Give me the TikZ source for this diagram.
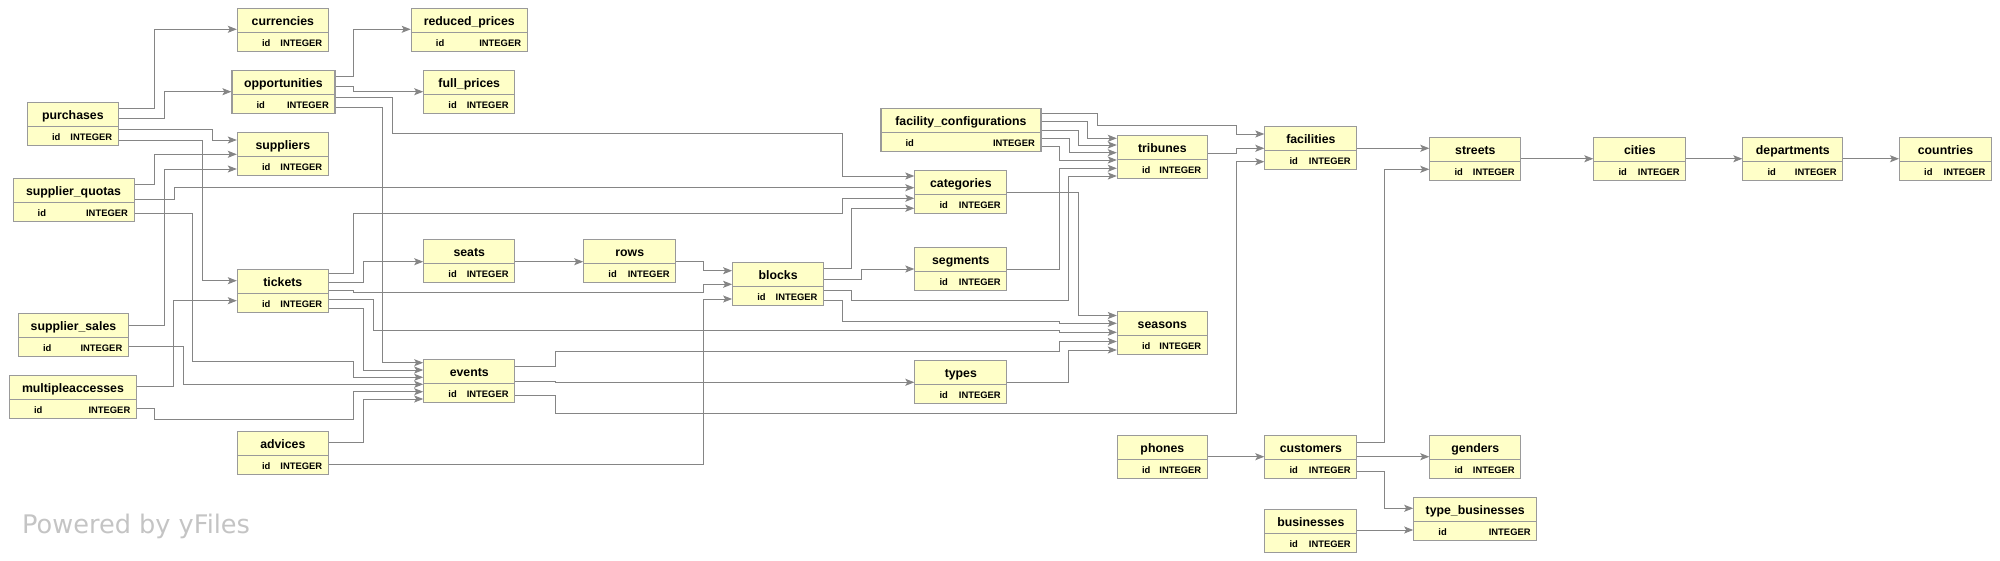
\documentclass[tikz,border=0pt]{standalone}
\usepackage{fontspec}
\usepackage{tikz}
\usetikzlibrary{arrows.meta}
\setmainfont{Liberation Sans}
\newfontfamily\poweredfont{DejaVu Sans}
\definecolor{entyellow}{HTML}{FFFFC8}
\definecolor{entborder}{HTML}{9A9A9A}
\definecolor{fkgray}{HTML}{858585}
\definecolor{poweredgray}{HTML}{C4C4C4}
% table box: name, x, y (top left, px), width, title
\newcommand{\entity}[5]{%
  \node[entbox,minimum width=#4pt,anchor=north west] (#1) at (#2,#3) {};
  \draw[entsep] ([yshift=-24.5pt]#1.north west) -- ([yshift=-24.5pt]#1.north east);
  \node[enttitle] (#1-name) at ([yshift=-17.6pt]#1.north) {#5};
  \node[entcol,anchor=base west] (#1-id) at ([xshift=25pt,yshift=5.5pt]#1.south west) {id};
  \node[entcol,anchor=base east] (#1-type) at ([xshift=-6.5pt,yshift=5.5pt]#1.south east) {INTEGER};
}

\begin{document}
\begin{tikzpicture}[
  x=1pt,y=-1pt,
  entbox/.style={draw=entborder,fill=entyellow,line width=1.1pt,minimum height=43pt,inner sep=0pt},
  entsep/.style={draw=entborder,line width=1pt},
  enttitle/.style={anchor=base,inner sep=0pt,font=\bfseries\fontsize{12.3}{14}\selectfont},
  entcol/.style={inner sep=0pt,font=\bfseries\fontsize{9.4}{11}\selectfont},
  fk/.style={draw=fkgray,line width=0.9pt,-{Stealth[length=9pt,width=7pt,inset=2pt]}}
]
  \useasboundingbox (0,0) rectangle (2000,561);
  \entity{currencies}{236.8}{8.3}{91}{currencies}
  \entity{reducedprices}{410.7}{8.3}{116}{reduced\_prices}
  \entity{opportunities}{231.4}{70.3}{103}{opportunities}
  \entity{fullprices}{423.2}{70.3}{91}{full\_prices}
  \entity{purchases}{26.8}{101.7}{91}{purchases}
  \entity{suppliers}{236.8}{132.3}{91}{suppliers}
  \entity{supplierquotas}{12.5}{177.7}{121}{supplier\_quotas}
  \entity{tickets}{236.8}{269.3}{91}{tickets}
  \entity{seats}{423.2}{239.3}{91}{seats}
  \entity{suppliersales}{17.9}{313.3}{110}{supplier\_sales}
  \entity{multiacc}{8.9}{375}{127}{multipleaccesses}
  \entity{events}{423.2}{359.3}{91}{events}
  \entity{advices}{236.8}{431}{91}{advices}
  \entity{facconf}{880.4}{108.3}{160}{facility\_configurations}
  \entity{categories}{914.3}{170}{92}{categories}
  \entity{rows}{583.2}{239.3}{92}{rows}
  \entity{blocks}{732.1}{262.3}{91}{blocks}
  \entity{segments}{914.3}{247.3}{92}{segments}
  \entity{types}{914.3}{360}{92}{types}
  \entity{tribunes}{1116.8}{135}{90}{tribunes}
  \entity{facilities}{1264.3}{126.3}{92}{facilities}
  \entity{streets}{1429.3}{136.7}{91}{streets}
  \entity{seasons}{1116.8}{310.7}{90}{seasons}
  \entity{phones}{1116.8}{435.3}{90}{phones}
  \entity{customers}{1264.3}{435.3}{92}{customers}
  \entity{genders}{1429.3}{435.3}{91}{genders}
  \entity{typebusinesses}{1413.2}{497.3}{123}{type\_businesses}
  \entity{businesses}{1264.3}{508.7}{92}{businesses}
  \entity{cities}{1593.3}{136.7}{92}{cities}
  \entity{departments}{1742.3}{136.7}{100}{departments}
  \entity{countries}{1899}{136.7}{92}{countries}
  \node[anchor=base west,inner sep=0pt,text=poweredgray,font=\poweredfont\fontsize{25.6}{29}\selectfont] (powered) at (22,533) {Powered by yFiles};
  % purchases
  \draw[fk] (purchases.east |- 0,108.3) -| (154.3,29.3) -- (currencies.west |- 0,29.3);
  \draw[fk] (purchases.east |- 0,118.3) -| (164.3,91.7) -- (opportunities.west |- 0,91.7);
  \draw[fk] (purchases.east |- 0,129.3) -| (212.5,140) -- (suppliers.west |- 0,140);
  \draw[fk] (purchases.east |- 0,140) -| (202.5,280.7) -- (tickets.west |- 0,280.7);
  % supplier_quotas, supplier_sales
  \draw[fk] (supplierquotas.east |- 0,184.3) -| (154.3,154.3) -- (suppliers.west |- 0,154.3);
  \draw[fk] (supplierquotas.east |- 0,199.3) -| (174.3,187.7) -- (categories.west |- 0,187.7);
  \draw[fk] (supplierquotas.east |- 0,213.3) -| (192.9,361.7) -| (353.6,377.3) -- (events.west |- 0,377.3);
  \draw[fk] (suppliersales.east |- 0,325) -| (164.3,169) -- (suppliers.west |- 0,169);
  \draw[fk] (suppliersales.east |- 0,346.7) -| (183.2,384.3) -- (events.west |- 0,384.3);
  % multipleaccesses, advices
  \draw[fk] (multiacc.east |- 0,386.7) -| (173.9,300.7) -- (tickets.west |- 0,300.7);
  \draw[fk] (multiacc.east |- 0,408.3) -| (154.3,419.3) -| (353.6,391.7) -- (events.west |- 0,391.7);
  \draw[fk] (advices.east |- 0,442.7) -| (363.2,399) -- (events.west |- 0,399);
  \draw[fk] (advices.east |- 0,464.3) -| (703.6,299) -- (blocks.west |- 0,299);
  % opportunities
  \draw[fk] (opportunities.east |- 0,76) -| (353.6,29.3) -- (reducedprices.west |- 0,29.3);
  \draw[fk] (opportunities.east |- 0,86.7) -| (353.6,91.7) -- (fullprices.west |- 0,91.7);
  \draw[fk] (opportunities.east |- 0,97.3) -| (392.9,133.3) -| (842.9,176) -- (categories.west |- 0,176);
  \draw[fk] (opportunities.east |- 0,107.7) -| (382.1,362.7) -- (events.west |- 0,362.7);
  % tickets
  \draw[fk] (tickets.east |- 0,273.3) -| (353.6,213.3) -| (842.9,198.3) -- (categories.west |- 0,198.3);
  \draw[fk] (tickets.east |- 0,282.3) -| (363.2,261.7) -- (seats.west |- 0,261.7);
  \draw[fk] (tickets.east |- 0,290.7) -| (353.6,292.7) -| (703.6,284.3) -- (blocks.west |- 0,284.3);
  \draw[fk] (tickets.east |- 0,299.3) -| (373.2,330) -| (1059.3,332.3) -- (seasons.west |- 0,332.3);
  \draw[fk] (tickets.east |- 0,308.3) -| (363.2,370) -- (events.west |- 0,370);
  % seats, rows, blocks
  \draw[fk] (seats.east |- 0,261.7) -- (rows.west |- 0,261.7);
  \draw[fk] (rows.east |- 0,261.7) -| (703.6,270.7) -- (blocks.west |- 0,270.7);
  \draw[fk] (blocks.east |- 0,268.3) -| (851.8,208.3) -- (categories.west |- 0,208.3);
  \draw[fk] (blocks.east |- 0,279.3) -| (861.4,269) -- (segments.west |- 0,269);
  \draw[fk] (blocks.east |- 0,290) -| (851.8,300) -| (1068.3,176) -- (tribunes.west |- 0,176);
  \draw[fk] (blocks.east |- 0,300.7) -| (842.9,321.5) -| (1059.3,323.3) -- (seasons.west |- 0,323.3);
  % events
  \draw[fk] (events.east |- 0,366) -| (555.4,351) -| (1059.3,341.5) -- (seasons.west |- 0,341.5);
  \draw[fk] (events.east |- 0,381) -| (555.4,382.3) -- (types.west |- 0,382.3);
  \draw[fk] (events.east |- 0,395) -| (555.4,413.3) -| (1236,161.7) -- (facilities.west |- 0,161.7);
  % categories, segments, types
  \draw[fk] (categories.east |- 0,192.3) -| (1078.3,315.5) -- (seasons.west |- 0,315.5);
  \draw[fk] (segments.east |- 0,269.3) -| (1059.3,168.3) -- (tribunes.west |- 0,168.3);
  \draw[fk] (types.east |- 0,382.3) -| (1068.3,350) -- (seasons.west |- 0,350);
  % facility_configurations
  \draw[fk] (facconf.east |- 0,113.3) -| (1097.3,125) -| (1236,134) -- (facilities.west |- 0,134);
  \foreach \ya/\xb/\yb in {121.7/1087.3/138.3, 130/1078.3/145, 138.3/1069.3/152.7, 146.7/1059.3/160}
    \draw[fk] (facconf.east |- 0,\ya) -| (\xb,\yb) -- (tribunes.west |- 0,\yb);
  \draw[fk] (tribunes.east |- 0,153) -| (1236,148.3) -- (facilities.west |- 0,148.3);
  % facilities, streets, customers
  \draw[fk] (facilities.east |- 0,148.3) -- (streets.west |- 0,148.3);
  \draw[fk] (customers.east |- 0,442.7) -| (1384.6,169.3) -- (streets.west |- 0,169.3);
  \draw[fk] (streets) -- (cities);
  \draw[fk] (cities) -- (departments);
  \draw[fk] (departments) -- (countries);
  \draw[fk] (phones.east |- 0,456.7) -- (customers.west |- 0,456.7);
  \draw[fk] (customers.east |- 0,456.7) -- (genders.west |- 0,456.7);
  \draw[fk] (customers.east |- 0,471.7) -| (1384.6,508.3) -- (typebusinesses.west |- 0,508.3);
  \draw[fk] (businesses.east |- 0,530) -- (typebusinesses.west |- 0,530);
\end{tikzpicture}
\end{document}
